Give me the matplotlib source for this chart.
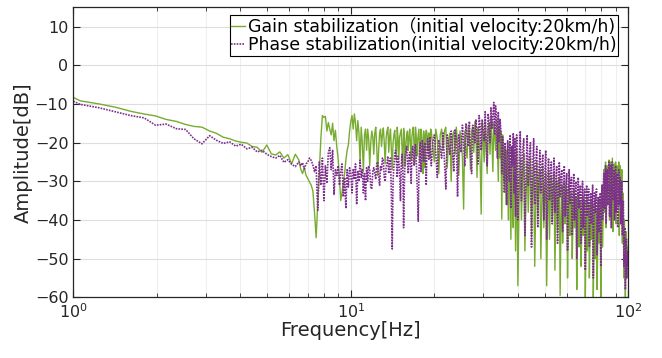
import numpy as np
import matplotlib
matplotlib.use("Agg")
from matplotlib import pyplot as plt
from matplotlib.ticker import LogLocator, NullFormatter

plt.rcParams['font.family'] = ['DejaVu Sans', 'Noto Sans CJK JP']
plt.rcParams['axes.unicode_minus'] = True

# frequency bins [Hz] in segments
freq_a = [1.0, 1.06, 1.24, 1.43, 1.61, 1.80, 1.98, 2.16, 2.35, 2.54,
          2.72, 2.91, 3.10, 3.28, 3.47, 3.66, 3.85, 4.03, 4.22, 4.41,
          4.60, 4.79, 4.98, 5.17, 5.36, 5.55, 5.74, 5.93, 6.12, 6.31]
freq_b = [6.5, 6.6, 6.7, 6.8, 6.9, 7.0, 7.1, 7.2, 7.3, 7.4,
          7.5, 7.6, 7.7, 7.8, 7.9, 8.0, 8.1, 8.2, 8.3, 8.4,
          8.5, 8.6, 8.7, 8.8, 8.9, 9.0, 9.1, 9.2, 9.3, 9.4,
          9.5, 9.6, 9.7, 9.8, 9.9, 10.0, 10.1, 10.2, 10.3, 10.4,
          10.5, 10.6, 10.7, 10.8, 10.9, 11.0, 11.1, 11.2, 11.3, 11.4]
freq_c = [11.5, 11.6, 11.7, 11.8, 11.9, 12.0, 12.1, 12.2, 12.3, 12.4,
          12.5, 12.6, 12.7, 12.8, 12.9, 13.0, 13.1, 13.2, 13.3, 13.4,
          13.5, 13.6, 13.7, 13.8, 13.9, 14.0, 14.1, 14.2, 14.3, 14.4,
          14.5, 14.6, 14.7, 14.8, 14.9, 15.0, 15.1, 15.2, 15.3, 15.4,
          15.5, 15.6, 15.7, 15.8, 15.9, 16.0, 16.1, 16.2, 16.3, 16.4,
          16.5, 16.6, 16.7, 16.8, 16.9, 17.0, 17.1, 17.2, 17.3, 17.4,
          17.5, 17.6, 17.7, 17.8, 17.9, 18.0, 18.1, 18.2, 18.3, 18.4,
          18.5, 18.6, 18.7, 18.8, 18.9, 19.0, 19.1, 19.2, 19.3, 19.4]
freq_d = [19.5, 19.75, 20.0, 20.25, 20.5, 20.75, 21.0, 21.25,
          21.5, 21.75, 22.0, 22.25, 22.5, 22.75, 23.0, 23.25,
          23.5, 23.75, 24.0, 24.25, 24.5, 24.75, 25.0, 25.25,
          25.5, 25.75, 26.0, 26.25, 26.5, 26.75, 27.0, 27.25,
          27.5, 27.75, 28.0, 28.25, 28.5, 28.75, 29.0, 29.25,
          29.5, 29.75, 30.0, 30.25, 30.5, 30.75, 31.0, 31.25,
          31.5, 31.75, 32.0, 32.25, 32.5, 32.75, 33.0, 33.25,
          33.5, 33.75, 34.0, 34.25, 34.5, 34.75, 35.0, 35.25,
          35.5, 35.75, 36.0, 36.25, 36.5, 36.75, 37.0, 37.25,
          37.5, 37.75, 38.0, 38.25, 38.5, 38.75, 39.0, 39.25]
freq_e = [39.6, 40.0, 40.4, 40.8, 41.2, 41.6, 42.0, 42.4, 42.8, 43.2,
          43.6, 44.0, 44.4, 44.8, 45.2, 45.6, 46.0, 46.4, 46.8, 47.2,
          47.6, 48.0, 48.4, 48.8, 49.2, 49.6, 50.0, 50.4, 50.8, 51.2,
          51.6, 52.0, 52.4, 52.8, 53.2, 53.6, 54.0, 54.4, 54.8, 55.2,
          55.6, 56.0, 56.4, 56.8, 57.2, 57.6, 58.0, 58.4, 58.8, 59.2,
          59.6, 60.0, 60.4, 60.8, 61.2, 61.6, 62.0, 62.4, 62.8, 63.2,
          63.6, 64.0, 64.4, 64.8, 65.2, 65.6, 66.0, 66.4, 66.8, 67.2,
          67.6, 68.0, 68.4, 68.8, 69.2, 69.6, 70.0, 70.4, 70.8, 71.2,
          71.6, 72.0, 72.4, 72.8, 73.2, 73.6, 74.0, 74.4, 74.8, 75.2,
          75.6, 76.0, 76.4, 76.8, 77.2, 77.6, 78.0, 78.4, 78.8, 79.2,
          79.6, 80.0, 80.4, 80.8, 81.2, 81.6, 82.0, 82.4, 82.8, 83.2,
          83.6, 84.0, 84.4, 84.8, 85.2, 85.6, 86.0, 86.4, 86.8, 87.2,
          87.6, 88.0, 88.4, 88.8, 89.2, 89.6, 90.0, 90.4, 90.8, 91.2,
          91.6, 92.0, 92.4, 92.8, 93.2, 93.6, 94.0, 94.4, 94.8, 95.2,
          95.6, 96.0, 96.4, 96.8, 97.2, 97.6, 98.0, 98.4, 98.8, 99.2,
          99.6, 100.0]

# gain stabilization amplitude [dB]
gain_a = [-8.3, -9.2, -10.0, -10.9, -11.9, -12.6, -13.1, -14.0, -14.5, -15.3,
          -15.8, -16.0, -17.0, -17.6, -18.6, -19.0, -19.6, -19.9, -20.1, -21.0,
          -21.2, -22.5, -20.6, -22.9, -23.2, -22.4, -24.0, -23.1, -25.5, -23.0]
gain_b = [-24.5, -26.8, -28.0, -26.5, -28.5, -29.3, -30.2, -31.0, -32.5, -38.0,
          -44.6, -36.0, -28.0, -19.0, -13.0, -13.5, -13.2, -17.0, -14.8, -16.5,
          -18.0, -15.0, -19.5, -16.8, -21.0, -24.0, -29.0, -35.0, -33.0, -30.0,
          -28.0, -24.5, -22.0, -20.6, -17.0, -14.5, -13.0, -16.5, -12.6, -15.0,
          -19.5, -14.3, -17.5, -25.0, -16.0, -20.0, -27.5, -18.0, -16.5, -22.0]
gain_c = [-16.5, -19.0, -26.0, -20.0, -17.0, -18.5, -23.0, -17.5, -16.0, -21.0,
          -28.5, -22.0, -17.5, -16.5, -21.0, -18.0, -16.2, -20.0, -25.5, -19.0,
          -17.0, -16.0, -22.5, -18.5, -16.5, -21.5, -27.0, -20.0, -18.0, -16.8,
          -20.5, -24.5, -16.0, -19.0, -24.0, -18.5, -17.5, -16.5, -21.5, -26.5,
          -16.3, -18.0, -26.0, -20.5, -18.0, -17.0, -22.0, -19.0, -16.5, -20.0,
          -24.5, -18.5, -17.0, -16.0, -20.5, -25.5, -16.0, -18.0, -23.5, -19.5,
          -18.0, -16.5, -25.0, -21.0, -16.5, -18.0, -21.0, -28.0, -17.0, -19.5,
          -26.5, -18.0, -16.8, -17.5, -22.0, -19.0, -17.5, -23.0, -24.0, -16.5]
gain_d = [-17.0, -21.0, -25.0, -16.5, -19.0, -28.0, -18.0, -16.5,
          -22.0, -17.0, -16.0, -26.5, -19.5, -17.5, -30.0, -18.5,
          -17.0, -23.0, -16.0, -20.5, -28.5, -17.0, -19.0, -24.0,
          -37.2, -17.0, -21.5, -24.0, -15.5, -19.0, -27.0, -17.0,
          -16.0, -22.5, -14.5, -18.0, -29.0, -16.0, -20.0, -25.0,
          -38.5, -15.0, -19.5, -25.0, -14.0, -21.0, -28.0, -16.5,
          -15.0, -23.0, -13.5, -19.0, -27.5, -15.0, -18.0, -22.0,
          -14.0, -20.0, -30.0, -16.0, -24.0, -17.0, -39.8, -18.0,
          -26.0, -30.0, -21.0, -36.0, -22.0, -28.0, -40.0, -20.0,
          -32.0, -45.0, -23.0, -35.0, -42.0, -22.0, -30.0, -48.0]
gain_e = [-22, -57, -35, -24, -40, -28, -23, -48, -33, -25,
          -38, -29, -24, -44, -31, -26, -52, -36, -25, -39,
          -30, -27, -50, -35, -26, -42, -33, -28, -57, -38,
          -27, -45, -34, -29, -40, -33, -28, -53, -37, -30,
          -43, -35, -29, -59.5, -40, -31, -46, -36, -30, -41,
          -35, -32, -55, -40, -31, -44, -36, -33, -50, -39,
          -32, -42, -37, -34, -58, -43, -33, -47, -39, -35,
          -52, -41, -34, -44, -38, -35, -60, -45, -34, -48,
          -40, -36, -55, -44, -35, -45, -40, -36, -60, -46,
          -35, -50, -42, -37, -58, -45, -36, -46, -41, -35,
          -60, -44, -32, -47, -36, -27, -38, -30, -25, -42,
          -31, -26, -36, -29, -24.5, -40, -30, -25, -37, -31,
          -24, -43, -32, -25.5, -38, -30, -25, -41, -31, -26,
          -36, -30, -25, -44, -33, -26, -39, -31, -27, -46,
          -33, -38, -55, -40, -45, -60, -43, -48, -52, -47,
          -50, -45]

# phase stabilization amplitude [dB]
phase_a = [-9.3, -10.1, -11.0, -12.1, -13.0, -13.6, -15.5, -15.2, -16.4, -16.6,
           -19.0, -20.3, -18.2, -19.4, -20.2, -19.8, -20.9, -20.4, -21.6, -21.2,
           -22.4, -22.0, -23.0, -23.6, -24.0, -23.3, -25.1, -24.4, -25.6, -26.2]
phase_b = [-25.0, -26.0, -25.2, -26.8, -25.5, -25.0, -24.0, -24.6, -25.8, -27.5,
           -26.0, -37.5, -25.0, -31.0, -24.0, -35.0, -26.0, -30.5, -22.5, -21.3,
           -27.0, -22.0, -33.4, -27.0, -28.5, -26.0, -31.0, -27.5, -25.5, -34.0,
           -29.0, -37.0, -27.0, -31.5, -26.5, -28.0, -33.0, -27.0, -29.5, -25.5,
           -36.0, -27.5, -30.0, -24.5, -29.0, -27.0, -33.0, -28.0, -35.0, -26.5]
phase_c = [-30.0, -26.0, -27.0, -31.5, -32.0, -27.5, -26.5, -28.0, -29.5, -25.5,
           -25.0, -28.5, -31.0, -26.0, -27.0, -24.0, -24.5, -29.0, -30.0, -26.5,
           -25.5, -23.5, -28.0, -25.0, -24.0, -33.0, -47.5, -30.0, -26.0, -23.0,
           -22.0, -25.0, -29.0, -23.5, -24.5, -28.5, -35.0, -26.0, -23.0, -27.0,
           -42.0, -30.0, -24.0, -22.0, -21.0, -25.0, -28.0, -23.5, -22.5, -26.0,
           -30.5, -24.0, -21.0, -23.0, -26.0, -22.0, -20.5, -24.0, -29.0, -33.0,
           -40.3, -28.0, -22.0, -20.0, -27.5, -23.0, -19.5, -22.5, -25.0, -21.0,
           -20.0, -26.0, -31.0, -22.0, -19.0, -21.5, -24.5, -20.0, -18.5, -23.0]
phase_d = [-26.0, -20.0, -18.0, -23.0, -29.0, -19.5, -21.0, -24.0,
           -17.5, -25.0, -32.0, -18.0, -20.5, -23.0, -17.0, -22.0,
           -27.5, -16.5, -19.0, -34.0, -18.0, -21.0, -22.5, -15.5,
           -20.0, -26.0, -15.0, -18.5, -21.0, -14.5, -23.0, -28.0,
           -15.5, -17.5, -20.0, -14.0, -19.0, -25.5, -13.0, -16.0,
           -22.0, -14.0, -17.0, -19.5, -12.0, -20.0, -26.0, -12.5,
           -15.0, -20.0, -11.0, -16.5, -13.0, -9.6, -18.0, -10.5,
           -14.0, -24.0, -12.0, -20.0, -14.0, -17.0, -28.0, -18.5,
           -23.0, -33.0, -20.0, -27.0, -36.0, -19.5, -24.0, -30.0,
           -18.0, -37.0, -21.0, -26.0, -17.5, -33.0, -19.0, -39.0]
phase_e = [-18, -40, -26, -17, -35, -22, -19, -44, -28, -18,
           -31, -24, -20, -47, -27, -19, -36, -25, -21, -42,
           -28, -22, -33, -26, -23, -40, -29, -22, -45, -30,
           -24, -35, -28, -25, -41, -31, -24, -38, -30, -26,
           -46, -33, -25, -34, -29, -27, -43, -32, -26, -39,
           -31, -28, -48, -35, -27, -36, -30, -29, -44, -34,
           -28, -40, -33, -30, -50, -36, -29, -37, -33, -31,
           -46, -37, -30, -42, -35, -32, -53, -38, -31, -39,
           -34, -32, -47, -38, -33, -41, -36, -31, -55, -40,
           -33, -38, -35, -32, -49, -39, -34, -43, -37, -33,
           -52, -38, -31, -40, -33, -28, -37, -31, -26, -41,
           -32, -27, -36, -30, -25, -39, -31, -26, -42, -33,
           -25, -35, -29, -27, -40, -32, -26, -38, -30, -28,
           -42, -33, -27, -36, -31, -29, -41, -34, -30, -44,
           -36, -35, -52, -44, -42, -58, -47, -45, -55, -50,
           -48, -52]

freq = np.concatenate([freq_a, freq_b, freq_c, freq_d, freq_e])
gain = np.concatenate([gain_a, gain_b, gain_c, gain_d, gain_e])
phase = np.concatenate([phase_a, phase_b, phase_c, phase_d, phase_e])

green = '#77AC30'
purple = '#7E2F8E'
axcol = '#262626'

fig = plt.figure(figsize=(6.62, 3.58), dpi=100)
ax = fig.add_axes([73.3 / 662, 60.7 / 358, 555 / 662, 290 / 358])

ax.plot(freq, gain, '-', color=green, lw=1.0,
        label='Gain stabilization（initial velocity:20km/h)')
ax.plot(freq, phase, linestyle=(0, (1, 0.7)), color=purple, lw=1.2,
        label='Phase stabilization(initial velocity:20km/h)')

ax.set_xscale('log')
ax.set_xlim(1, 100)
ax.set_ylim(-60, 15)
ax.set_yticks(range(-60, 11, 10))
ax.xaxis.set_minor_locator(LogLocator(base=10, subs=np.arange(2, 10)))
ax.xaxis.set_minor_formatter(NullFormatter())

ax.grid(True, which='major', color='#dedede', lw=0.8)
ax.grid(True, which='minor', axis='x', color='#efefef', lw=0.8)
ax.set_axisbelow(True)

ax.tick_params(which='both', direction='in', top=True, right=True, colors=axcol,
               labelsize=11.5, labelcolor='#262626')
ax.tick_params(which='major', length=5, width=0.8)
ax.tick_params(which='minor', length=3, width=0.6)
for s in ax.spines.values():
    s.set_color(axcol)
    s.set_linewidth(0.9)

ax.set_xlabel('Frequency[Hz]', fontsize=14, color='#262626', labelpad=0)
ax.set_ylabel('Amplitude[dB]', fontsize=14, color='#262626', labelpad=1)

leg = ax.legend(loc='upper right', bbox_to_anchor=(0.982, 0.9734), fontsize=12.5,
                fancybox=False, edgecolor='black', framealpha=1, borderaxespad=0,
                handlelength=0.8, handletextpad=0.15, borderpad=0.1, labelspacing=0.05)
leg.get_frame().set_linewidth(0.8)

fig.savefig('out.png', dpi=100)
